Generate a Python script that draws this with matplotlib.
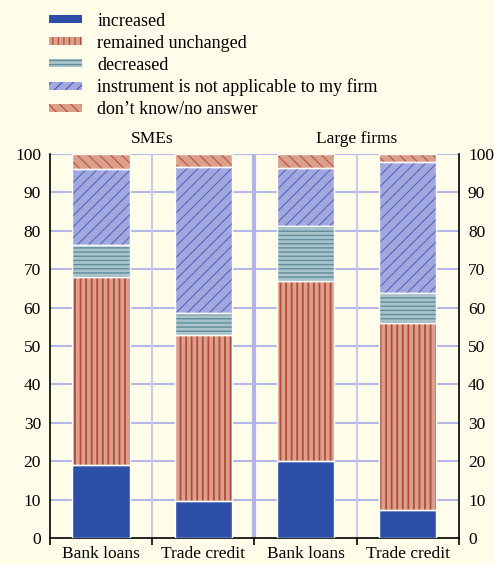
import matplotlib
matplotlib.use("Agg")
import matplotlib.pyplot as plt
from matplotlib.patches import Patch
import numpy as np

# values (percent of firms)
categories = ["Bank loans", "Trade credit", "Bank loans", "Trade credit"]
groups = ["SMEs", "Large firms"]
series_names = ["increased", "remained unchanged", "decreased",
                "instrument is not applicable to my firm", "don\u2019t know/no answer"]
increased = [19.1, 9.6, 20.0, 7.2]
unchanged = [48.8, 43.3, 46.8, 48.7]
decreased = [8.5, 5.8, 14.5, 7.9]
not_applicable = [19.6, 38.0, 15.1, 34.1]
dont_know = [4.0, 3.3, 3.6, 2.1]

BG = "#FFFDE9"
# (face, hatch colour, hatch, hatch width)
styles = [
    ("#2E4FA8", "#2E4FA8", None, 0.8),
    ("#D9A18C", "#B84A3A", "|||", 1.3),
    ("#AAC3CB", "#5E8D9B", "----", 1.0),
    ("#A2A8DE", "#4A5FC0", "///", 0.7),
    ("#D9A08B", "#C0503D", "\\\\\\", 0.8),
]

plt.rcParams["font.family"] = ["Liberation Serif", "DejaVu Serif"]
plt.rcParams["font.size"] = 13
plt.rcParams["hatch.linewidth"] = 0.9

fig = plt.figure(figsize=(4.94, 5.65), dpi=100, facecolor=BG)
ax = fig.add_axes([0.1012, 0.0478, 0.8278, 0.6796], facecolor=BG)

x = np.arange(len(categories))
width = 0.56
bottom = np.zeros(len(categories))
for vals, (face, hc, hatch, hw) in zip(
        [increased, unchanged, decreased, not_applicable, dont_know], styles):
    with plt.rc_context({"hatch.linewidth": hw}):
        ax.bar(x, vals, width, bottom=bottom, color=face, edgecolor=hc,
               hatch=hatch, linewidth=0, zorder=3)
    ax.bar(x, vals, width, bottom=bottom, fill=False, edgecolor="white",
           linewidth=1.0, zorder=4)
    bottom += np.array(vals)

ax.set_xlim(-0.5, 3.5)
ax.set_ylim(0, 100)

# grid
for yv in range(10, 101, 10):
    ax.axhline(yv, color="#B4B8E8", lw=1.5, zorder=1)
for xv in [0.5, 2.5]:
    ax.axvline(xv, color="#C8C9E6", lw=1.5, zorder=1)
ax.axvline(1.5, color="#B0B4E6", lw=3, zorder=1)

# spines
ax.spines["top"].set_visible(False)
for s in ["left", "right", "bottom"]:
    ax.spines[s].set_color("black")
    ax.spines[s].set_linewidth(1.2)

ax.set_yticks(range(0, 101, 10))
ax.tick_params(axis="y", length=0, pad=6.5, labelsize=12.5,
               left=False, right=False, labelleft=True, labelright=True)
ax.set_xticks(x)
ax.set_xticklabels(categories)
ax.set_xticks([-0.5, 0.5, 1.5, 2.5, 3.5], minor=True)
ax.tick_params(axis="x", which="major", length=0, pad=6, labelsize=12.5)
ax.tick_params(axis="x", which="minor", length=5, width=1.2, direction="out")

for gx, g in zip([0.5, 2.5], groups):
    ax.text(gx, 101.8, g, ha="center", va="bottom", fontsize=12.5)

handles = []
for f, hc, h, hw in styles:
    with plt.rc_context({"hatch.linewidth": hw}):
        handles.append(Patch(facecolor=f, edgecolor=hc, hatch=h, linewidth=0))
fig.legend(handles, series_names, loc="upper left",
           bbox_to_anchor=(0.08, 0.995), frameon=False, fontsize=13,
           handlelength=1.8, handleheight=0.3, handletextpad=0.85,
           labelspacing=0.27, borderaxespad=0.25, borderpad=0.3)

fig.savefig("out.png", dpi=100, facecolor=BG)
